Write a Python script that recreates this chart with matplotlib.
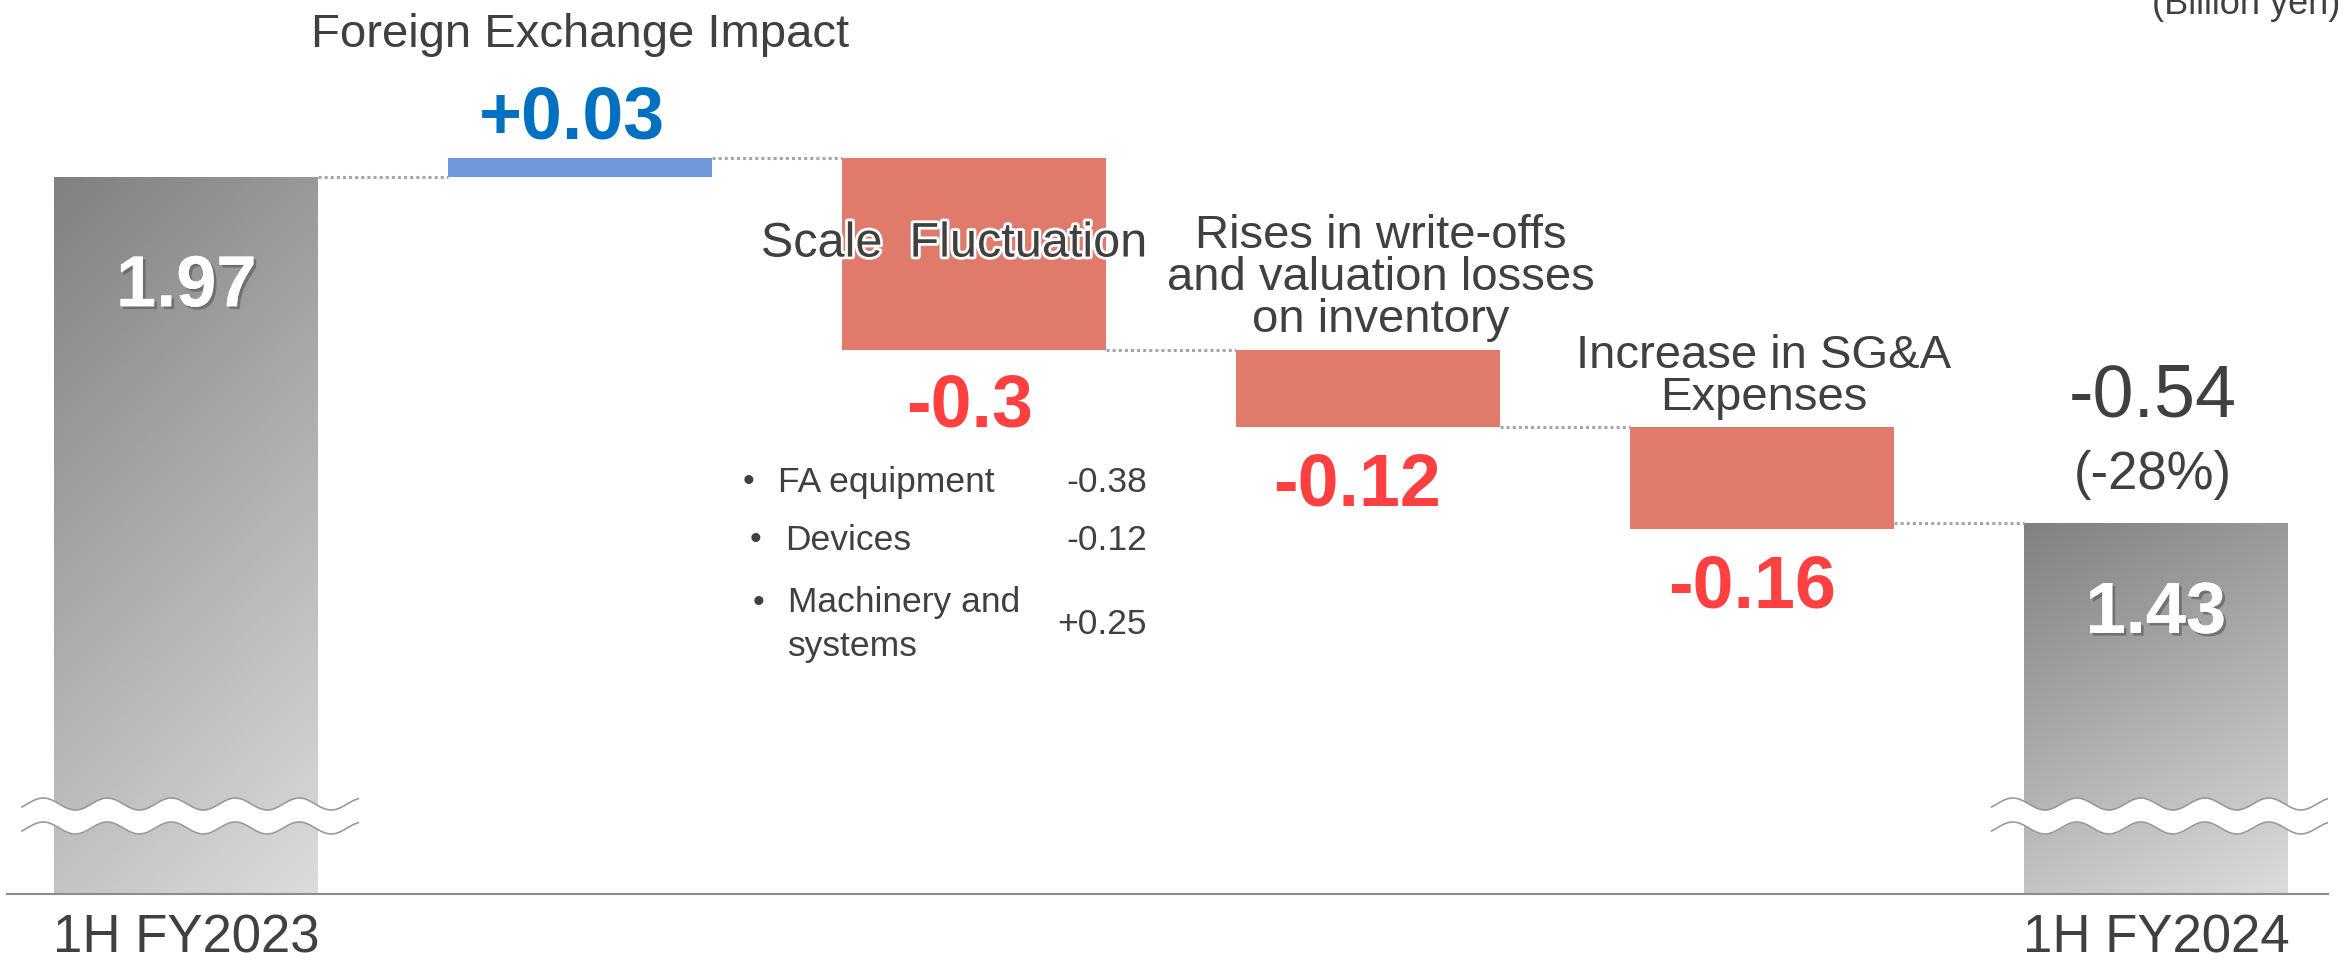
import numpy as np
import matplotlib.pyplot as plt
import matplotlib.patheffects as pe
from matplotlib.patches import Rectangle

plt.rcParams['font.family'] = ['Liberation Sans', 'DejaVu Sans']

# data (billion yen)
start_label = '1H FY2023'
end_label = '1H FY2024'
start_value = 1.97
end_value = 1.43
steps = ['Foreign Exchange Impact', 'Scale  Fluctuation',
         'Rises in write-offs\nand valuation losses\non inventory',
         'Increase in SG&A\nExpenses']
deltas = [0.03, -0.30, -0.12, -0.16]
step_texts = ['+0.03', '-0.3', '-0.12', '-0.16']
total_change = '-0.54'
total_change_pct = '(-28%)'
breakdown_names = ['FA equipment', 'Devices', 'Machinery and\nsystems']
breakdown_values = ['-0.38', '-0.12', '+0.25']

DARK = '#404040'
BLUE_BAR = '#6f97db'
RED_BAR = '#e07b6b'
BLUE_TXT = '#0070c0'
RED_TXT = '#ff4040'
W = 0.67

fig = plt.figure(figsize=(23.44, 9.72), dpi=100)
ax = fig.add_axes([7 / 2344, 78 / 972, 2321 / 2344, 894 / 972])
ax.set_xlim(-0.455, 5.437)
ax.set_ylim(0.85, 2.247)
for s in ['top', 'left', 'right']:
    ax.spines[s].set_visible(False)
ax.spines['bottom'].set_color('#8c8c8c')
ax.spines['bottom'].set_linewidth(1.5)
ax.set_xticks([])
ax.set_yticks([])

n = len(deltas)
xs = np.arange(n + 2)
ybot = ax.get_ylim()[0]


def gradient_bar(x, top):
    rect = Rectangle((x - W / 2, ybot), W, top - ybot, facecolor='none',
                     edgecolor='none')
    ax.add_patch(rect)
    gy, gx = np.mgrid[0:1:200j, 0:1:100j]
    t = 0.8 * gy + 0.3 * gx
    t = t / t.max()
    shade = (0x80 + t * (0xdc - 0x80)) / 255.0
    img = np.dstack([shade, shade, shade])
    im = ax.imshow(img, extent=(x - W / 2, x + W / 2, ybot, top),
                   origin='upper', aspect='auto', zorder=1)
    im.set_clip_path(rect)


def wave_break(x):
    wx = np.linspace(x - 0.417, x + 0.437, 400)
    px_per_unit = 894 / (2.247 - 0.85)
    amp = 6 / px_per_unit
    period = 64 / 394
    phase = np.sin(2 * np.pi * (wx - (x - 0.363)) / period + np.pi / 2)
    y1 = 2.247 - 804 / px_per_unit + amp * phase
    y2 = 2.247 - 828 / px_per_unit + amp * phase
    ax.fill_between(wx, y2, y1, color='white', zorder=3, lw=0)
    ax.plot(wx, y1, color='#9a9a9a', lw=1.2, zorder=4)
    ax.plot(wx, y2, color='#9a9a9a', lw=1.2, zorder=4)


def put(x, y, text, dx, dy, **kw):
    ax.annotate(text, (x, y), xytext=(dx, dy), textcoords='offset pixels',
                ha=kw.pop('ha', 'center'), va=kw.pop('va', 'center'),
                zorder=6, **kw)


shadow = [pe.withSimplePatchShadow(offset=(2, -2), shadow_rgbFace='#555555',
                                   alpha=0.6), pe.Normal()]

# totals
gradient_bar(xs[0], start_value)
gradient_bar(xs[-1], end_value)
wave_break(xs[0])
wave_break(xs[-1])

# steps
level = start_value
levels = [start_value]
for i, d in enumerate(deltas):
    x = xs[i + 1]
    bottom = level if d > 0 else level + d
    ax.bar(x, abs(d), bottom=bottom, width=W,
           color=BLUE_BAR if d > 0 else RED_BAR, zorder=2)
    level = level + d
    levels.append(level)

# connectors
conn_y = [start_value] + levels[1:-1] + [end_value]
for i in range(n + 1):
    ax.plot([xs[i] + W / 2, xs[i + 1] - W / 2], [conn_y[i], conn_y[i]],
            color='#a6a6a6', lw=2.2, ls=(0, (1, 1)), zorder=2)

# total labels
put(xs[0], start_value, f'{start_value:.2f}', 0, -110, color='white',
    fontsize=52, fontweight='bold', path_effects=shadow)
put(xs[-1], end_value, f'{end_value:.2f}', 0, -91, color='white',
    fontsize=52, fontweight='bold', path_effects=shadow)
put(xs[-1], end_value, total_change, -3, 126, color=DARK, fontsize=53)
put(xs[-1], end_value, total_change_pct, -3, 48, color=DARK, fontsize=38)

# step labels
halo = [pe.withStroke(linewidth=4, foreground='white')]
fx_top = levels[1]
put(xs[1], fx_top, steps[0], 0, 123, color=DARK, fontsize=34)
put(xs[1], fx_top, step_texts[0], -8, 39, color=BLUE_TXT, fontsize=53,
    fontweight='bold')

put(xs[2], levels[1], steps[1], -20, -86, color=DARK, fontsize=35,
    path_effects=halo)
put(xs[2], levels[2], step_texts[1], -5, -57, color=RED_TXT, fontsize=53,
    fontweight='bold')

put(xs[3], levels[2], steps[2], 13, 72, color=DARK, fontsize=34,
    linespacing=0.93)
put(xs[3], levels[3], step_texts[2], -11, -59, color=RED_TXT, fontsize=53,
    fontweight='bold')

put(xs[4], levels[3], steps[3], 2, 50, color=DARK, fontsize=34,
    linespacing=0.93)
put(xs[4], levels[4], step_texts[3], -10, -59, color=RED_TXT, fontsize=53,
    fontweight='bold')

# breakdown of scale fluctuation
row_dy = [-132, -190, -274]
bullet_dy = [-132, -190, -253]
bullet_dx = [-226, -219, -216]
for name, val, dy, bdy, bdx in zip(breakdown_names, breakdown_values, row_dy,
                                   bullet_dy, bullet_dx):
    put(xs[2], levels[2], '\u2022', bdx, bdy, color=DARK, fontsize=24)
    put(xs[2], levels[2], name, bdx + 30, dy, color=DARK, fontsize=25.5,
        ha='left', linespacing=1.42)
    put(xs[2], levels[2], val, 173, dy, color=DARK, fontsize=25.5, ha='right')

# category labels
for x, lab in [(xs[0], start_label), (xs[-1], end_label)]:
    ax.annotate(lab, (x, 0), xycoords=('data', 'axes fraction'),
                xytext=(0, -44), textcoords='offset pixels', ha='center',
                va='center', color=DARK, fontsize=38, annotation_clip=False)

fig.text(2340 / 2344, 1 - 5 / 972, '(Billion yen)', ha='right', va='center',
         color=DARK, fontsize=26)

plt.savefig('out.png', dpi=100)
plt.close()
